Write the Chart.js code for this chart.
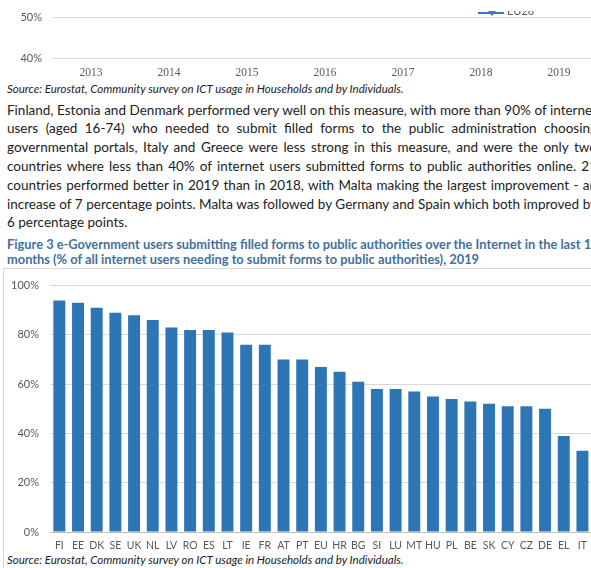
<!DOCTYPE html>
<html>
<head>
<meta charset="utf-8">
<script src="https://cdn.jsdelivr.net/npm/chart.js@4/dist/chart.umd.min.js"></script>
<style>
  html, body { margin: 0; padding: 0; background: #fff; }
  body { width: 591px; height: 568px; overflow: hidden; position: relative; font-family: Lato, "Open Sans", sans-serif; color: #222; }
  .abs { position: absolute; }
  .src { left: 7px; font-size: 11.5px; font-style: italic; color: #222; white-space: nowrap; line-height: 14px; }
  .para { left: 7px; font-size: 13.5px; line-height: 18.8px; white-space: nowrap; }
  .cap { left: 7px; font-size: 12.85px; font-weight: bold; color: #41719c; white-space: nowrap; line-height: 15px; }
  .box { left: 3px; top: 268px; width: 620px; height: 320px; border: 1px solid #d9d9d9; }
</style>
</head>
<body>
<div class="abs" style="left:0;top:-40px;width:598px;height:118px;"><canvas id="trend"></canvas></div>
<div class="abs" style="left:476px;top:11px;width:70px;height:6px;overflow:hidden;">
  <div class="abs" style="left:2px;top:1px;width:26px;height:2px;background:#4472c4;"></div>
  <div class="abs" style="left:12px;top:0;width:0;height:0;border-left:4px solid transparent;border-right:4px solid transparent;border-top:5px solid #4472c4;"></div>
  <div class="abs" style="left:31px;top:-7px;font-size:11px;color:#595959;line-height:13px;">EU28</div>
</div>

<div class="abs src" style="top:82px;">Source: Eurostat, Community survey on ICT usage in Households and by Individuals.</div>

<div id="para"></div>

<div class="abs cap" style="top:237px;">Figure 3 e-Government users submitting filled forms to public authorities over the Internet in the last 12</div>
<div class="abs cap" style="top:252px;">months (% of all internet users needing to submit forms to public authorities), 2019</div>

<div class="abs box"></div>
<div class="abs" style="left:0;top:268px;width:594px;height:285px;"><canvas id="forms"></canvas></div>

<div class="abs src" style="top:553px;">Source: Eurostat, Community survey on ICT usage in Households and by Individuals.</div>

<script>
const years = ['2013', '2014', '2015', '2016', '2017', '2018', '2019'];
const trendTicks = [40, 50, 60];

const countries = ['FI', 'EE', 'DK', 'SE', 'UK', 'NL', 'LV', 'RO', 'ES', 'LT', 'IE', 'FR', 'AT', 'PT', 'EU',
  'HR', 'BG', 'SI', 'LU', 'MT', 'HU', 'PL', 'BE', 'SK', 'CY', 'CZ', 'DE', 'EL', 'IT'];
const shares = [94, 93, 91, 89, 88, 86, 83, 82, 82, 81, 76, 76, 70, 70, 67,
  65, 61, 58, 58, 57, 55, 54, 53, 52, 51, 51, 50, 39, 33];
const shareTicks = [0, 20, 40, 60, 80, 100];

const paragraph = [
  'Finland, Estonia and Denmark performed very well on this measure, with more than 90% of internet',
  'users (aged 16-74) who needed to submit filled forms to the public administration choosing',
  'governmental portals, Italy and Greece were less strong in this measure, and were the only two',
  'countries where less than 40% of internet users submitted forms to public authorities online. 21',
  'countries performed better in 2019 than in 2018, with Malta making the largest improvement - an',
  'increase of 7 percentage points. Malta was followed by Germany and Spain which both improved by',
  '6 percentage points.'
];

// justified lines, cut by the page edge like the scanned document
const paraBox = document.getElementById('para');
paragraph.forEach((text, i) => {
  const line = document.createElement('div');
  line.className = 'abs para';
  line.style.top = (100.5 + i * 18.8) + 'px';
  line.textContent = text;
  paraBox.appendChild(line);
  if (i < paragraph.length - 1) {
    const spaces = text.split(' ').length - 1;
    const extra = 590 - line.getBoundingClientRect().width;
    line.style.wordSpacing = (extra / spaces) + 'px';
  }
});

const grey = '#595959';
const gridGrey = '#d9d9d9';

new Chart(document.getElementById('trend'), {
  type: 'line',
  data: { labels: years, datasets: [] },
  options: {
    responsive: true, maintainAspectRatio: false, animation: false,
    layout: { padding: { top: 4, right: 0, bottom: 0, left: 0 } },
    plugins: { legend: { display: false }, tooltip: { enabled: false } },
    scales: {
      x: {
        offset: true,
        grid: { display: false, drawTicks: false },
        border: { display: false },
        ticks: { color: grey, font: { family: '"Liberation Serif", serif', size: 11.5 }, padding: 8, maxRotation: 0 },
        afterFit: (scale) => { scale.height = 20; }
      },
      y: {
        min: trendTicks[0], max: trendTicks[trendTicks.length - 1],
        afterBuildTicks: (scale) => { scale.ticks = trendTicks.map((value) => ({ value })); },
        grid: { color: gridGrey, drawTicks: false },
        border: { display: false },
        ticks: { color: grey, font: { family: 'Lato', size: 11 }, padding: 10, callback: (v) => v + '%' },
        afterFit: (scale) => { scale.width = 52; }
      }
    }
  }
});

new Chart(document.getElementById('forms'), {
  type: 'bar',
  data: {
    labels: countries,
    datasets: [{ label: '2019', data: shares, backgroundColor: '#2e75b6', categoryPercentage: 1, barPercentage: 0.64 }]
  },
  options: {
    responsive: true, maintainAspectRatio: false, animation: false,
    layout: { padding: { top: 9, right: 0, bottom: 0, left: 0 } },
    plugins: { legend: { display: false }, tooltip: { enabled: false } },
    scales: {
      x: {
        grid: { display: false, drawTicks: false },
        border: { color: '#bfbfbf' },
        ticks: { color: grey, font: { family: 'Lato', size: 10.5 }, padding: 7, maxRotation: 0, autoSkip: false },
        afterFit: (scale) => { scale.height = 21; }
      },
      y: {
        min: 0, max: 100,
        afterBuildTicks: (scale) => { scale.ticks = shareTicks.map((value) => ({ value })); },
        grid: { color: gridGrey, drawTicks: false },
        border: { display: false },
        ticks: { color: grey, font: { family: 'Lato', size: 11 }, padding: 11, callback: (v) => v + '%' },
        afterFit: (scale) => { scale.width = 50; }
      }
    }
  }
});
</script>
</body>
</html>
